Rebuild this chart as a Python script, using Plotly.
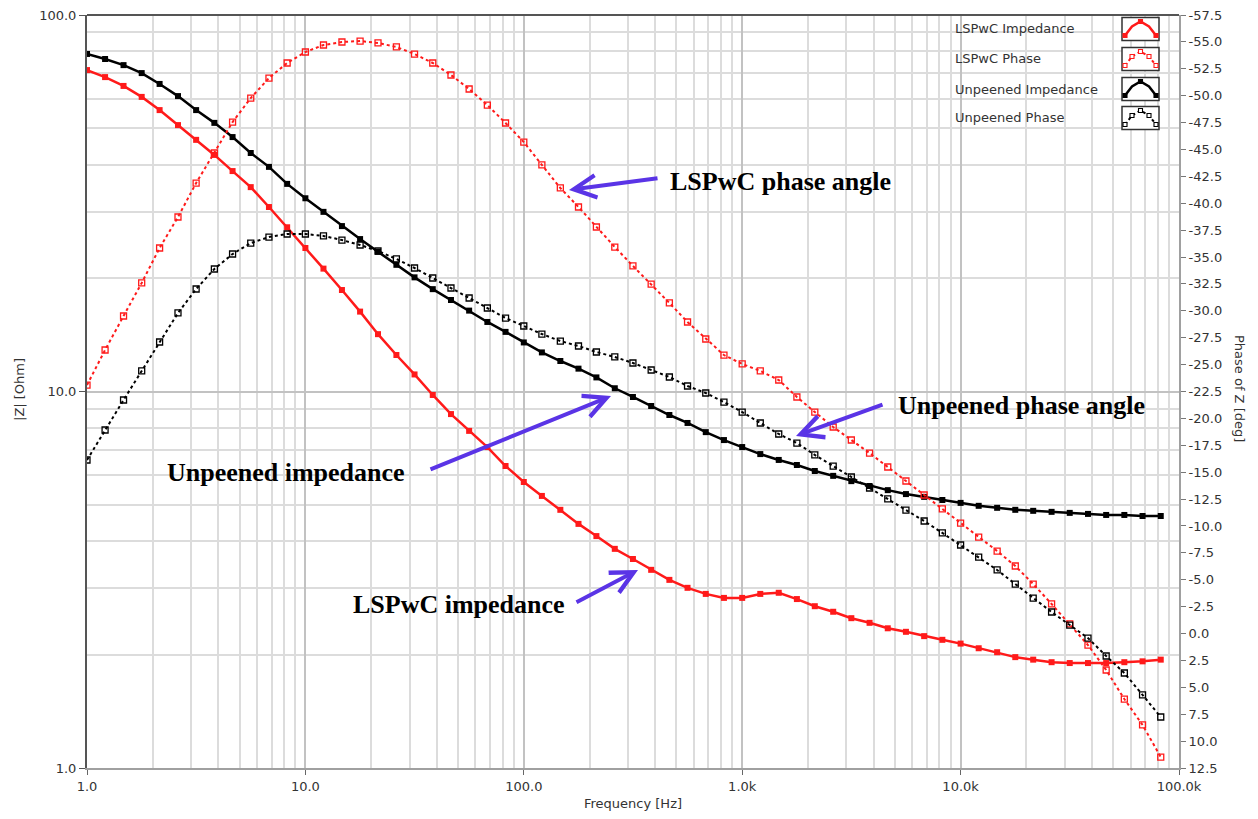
import plotly.graph_objects as go

# ---------------- data ----------------
freq_hz = [1.0, 1.21, 1.47, 1.78, 2.15, 2.61, 3.16, 3.83, 4.64, 5.62, 6.81, 8.25,
           10.0, 12.1, 14.7, 17.8, 21.5, 26.1, 31.6, 38.3, 46.4, 56.2, 68.1, 82.5,
           100, 121, 147, 178, 215, 261, 316, 383, 464, 562, 681, 825,
           1000, 1210, 1470, 1780, 2150, 2610, 3160, 3830, 4640, 5620, 6810, 8250,
           10000, 12100, 14700, 17800, 21500, 26100, 31600, 38300, 46400, 56200, 68100, 82500]

lspwc_impedance_ohm = [71.4, 68.4, 64.8, 60.6, 55.9, 51.0, 46.6, 42.5, 38.5, 34.9, 30.9, 27.3,
                       24.05, 21.2, 18.6, 16.3, 14.2, 12.5, 11.1, 9.79, 8.71, 7.86, 7.12, 6.34,
                       5.75, 5.28, 4.85, 4.45, 4.13, 3.82, 3.59, 3.36, 3.16, 3.01, 2.90, 2.83,
                       2.83, 2.90, 2.92, 2.81, 2.69, 2.60, 2.50, 2.43, 2.35, 2.30, 2.24, 2.19,
                       2.14, 2.08, 2.03, 1.97, 1.94, 1.91, 1.90, 1.90, 1.90, 1.91, 1.92, 1.94]

lspwc_phase_deg = [-23.10, -26.36, -29.52, -32.59, -35.84, -38.72, -41.88, -44.67, -47.55, -49.78, -51.64, -53.04,
                   -54.06, -54.71, -54.99, -55.08, -54.90, -54.53, -53.87, -53.04, -51.92, -50.62, -49.13, -47.46,
                   -45.69, -43.56, -41.42, -39.65, -37.79, -35.93, -34.17, -32.49, -30.73, -28.96, -27.38, -25.89,
                   -25.06, -24.41, -23.57, -21.99, -20.59, -19.20, -17.99, -16.78, -15.48, -14.18, -12.88, -11.58,
                   -10.27, -8.97, -7.67, -6.28, -4.60, -2.75, -0.89, 1.07, 3.39, 6.09, 8.50, 11.48]

unpeened_impedance_ohm = [78.8, 76.4, 73.6, 70.1, 65.6, 60.9, 55.9, 51.7, 47.4, 43.0, 39.5, 35.6,
                          32.6, 30.0, 27.5, 25.4, 23.5, 21.7, 20.1, 18.7, 17.5, 16.4, 15.3, 14.4,
                          13.5, 12.7, 12.05, 11.5, 10.9, 10.2, 9.67, 9.15, 8.66, 8.25, 7.80, 7.43,
                          7.12, 6.82, 6.58, 6.38, 6.15, 5.97, 5.78, 5.61, 5.47, 5.34, 5.25, 5.15,
                          5.06, 4.97, 4.91, 4.85, 4.82, 4.79, 4.76, 4.73, 4.70, 4.70, 4.67, 4.67]

unpeened_phase_deg = [-16.13, -18.92, -21.71, -24.41, -27.10, -29.80, -32.03, -33.89, -35.28, -36.30, -36.86, -37.14,
                      -37.14, -36.96, -36.58, -36.12, -35.56, -34.82, -33.98, -33.05, -32.12, -31.19, -30.26, -29.33,
                      -28.59, -27.84, -27.19, -26.73, -26.17, -25.71, -25.15, -24.50, -23.85, -23.01, -22.36, -21.52,
                      -20.59, -19.57, -18.55, -17.71, -16.60, -15.57, -14.55, -13.53, -12.51, -11.48, -10.46, -9.35,
                      -8.23, -7.11, -5.91, -4.60, -3.30, -2.00, -0.79, 0.42, 2.09, 3.67, 5.71, 7.76]

x_tick_vals = [1, 10, 100, 1000, 10000, 100000]
x_tick_text = ["1.0", "10.0", "100.0", "1.0k", "10.0k", "100.0k"]
x_minor_vals = [1, 10, 100, 1000, 10000]  # decade bases for minor grid
y_tick_vals = [1, 10, 100]
y_tick_text = ["1.0", "10.0", "100.0"]
phase_tick_vals = [-57.5, -55.0, -52.5, -50.0, -47.5, -45.0, -42.5, -40.0, -37.5, -35.0,
                   -32.5, -30.0, -27.5, -25.0, -22.5, -20.0, -17.5, -15.0, -12.5, -10.0,
                   -7.5, -5.0, -2.5, 0.0, 2.5, 5.0, 7.5, 10.0, 12.5]
phase_tick_text = ["-57.5", "-55.0", "-52.5", "-50.0", "-47.5", "-45.0", "-42.5", "-40.0", "-37.5", "-35.0",
                   "-32.5", "-30.0", "-27.5", "-25.0", "-22.5", "-20.0", "-17.5", "-15.0", "-12.5", "-10.0",
                   "-7.5", "-5.0", "-2.5", "0.0", "2.5", "5.0", "7.5", "10.0", "12.5"]

series_names = ["LSPwC Impedance", "LSPwC Phase", "Unpeened Impedance", "Unpeened Phase"]

# ---------------- styling ----------------
W, H = 1258, 819
L, R, T, B = 87, 79, 15, 51
PW, PH = W - L - R, H - T - B
RED = "#ff1a1a"
BLACK = "#000000"
ARROW = "#5a34e6"
TICKFONT = dict(family="DejaVu Sans", size=13, color="#333333")
NOTEFONT = dict(family="Liberation Serif", size=26, color="#000000")


def px(xp):
    return (xp - L) / PW


def py(yp):
    return (H - B - yp) / PH


minor_x = [b * k for b in x_minor_vals for k in range(2, 10)]
minor_y = [b * k for b in [1, 10] for k in range(2, 10)]

fig = go.Figure()

fig.add_trace(go.Scatter(x=freq_hz, y=lspwc_phase_deg, name=series_names[1], yaxis="y2",
                         mode="lines+markers",
                         line=dict(color=RED, width=2, dash="dot"),
                         marker=dict(symbol="square-open", size=6, color=RED, line=dict(width=1.3, color=RED))))
fig.add_trace(go.Scatter(x=freq_hz, y=unpeened_phase_deg, name=series_names[3], yaxis="y2",
                         mode="lines+markers",
                         line=dict(color=BLACK, width=2, dash="dot"),
                         marker=dict(symbol="square-open", size=6, color=BLACK, line=dict(width=1.3, color=BLACK))))
fig.add_trace(go.Scatter(x=freq_hz, y=lspwc_impedance_ohm, name=series_names[0],
                         mode="lines+markers",
                         line=dict(color=RED, width=2.5),
                         marker=dict(symbol="square", size=6, color=RED)))
fig.add_trace(go.Scatter(x=freq_hz, y=unpeened_impedance_ohm, name=series_names[2],
                         mode="lines+markers",
                         line=dict(color=BLACK, width=2.5),
                         marker=dict(symbol="square", size=6, color=BLACK)))

shapes = []
annotations = []

# top frame line
shapes.append(dict(type="line", xref="paper", yref="paper", x0=0, x1=1, y0=1, y1=1,
                   line=dict(color="#555555", width=2), layer="above"))

# custom legend (swatch boxes to the right of the labels)
legend_rows = [29, 59, 89, 118]
legend_styles = [(RED, "solid", "square", 2.5), (RED, "dot", "square-open", 2),
                 (BLACK, "solid", "square", 2.5), (BLACK, "dot", "square-open", 2)]
for name, yc, (col, dash, msym, lw) in zip(series_names, legend_rows, legend_styles):
    annotations.append(dict(xref="paper", yref="paper", x=px(953), y=py(yc), text=name,
                            showarrow=False, xanchor="left", yanchor="middle",
                            font=dict(family="DejaVu Sans", size=13, color="#333333")))
    bx0, bx1 = 1122, 1159
    by0, by1 = yc - 11.5, yc + 11.5
    shapes.append(dict(type="rect", xref="paper", yref="paper", x0=px(bx0), x1=px(bx1),
                       y0=py(by1), y1=py(by0), fillcolor="white",
                       line=dict(color="#333333", width=1.5), layer="above"))
    pts = [(bx0 + 3, by0 + 18), (bx0 + 10, by0 + 9), (bx0 + 18.5, by0 + 4),
           (bx0 + 27, by0 + 9), (bx0 + 34, by0 + 18)]
    path = "M " + " L ".join(f"{px(a):.5f},{py(b):.5f}" for a, b in pts)
    shapes.append(dict(type="path", xref="paper", yref="paper", path=path,
                       line=dict(color=col, width=lw, dash=dash), layer="above"))
    mk = [pts[0], pts[2], pts[4]] if msym == "square" else pts
    for (a, b) in mk:
        s = 2.0
        shapes.append(dict(type="rect", xref="paper", yref="paper",
                           x0=px(a - s), x1=px(a + s), y0=py(b + s), y1=py(b - s),
                           fillcolor=col if msym == "square" else "white",
                           line=dict(color=col, width=1.1), layer="above"))

# arrows + notes
notes = [
    ("LSPwC phase angle", 668, 181, (659, 178), (569, 190)),
    ("Unpeened phase angle", 896, 405, (884, 404), (796, 436)),
    ("Unpeened impedance", 165, 472, (429, 470), (611, 396)),
    ("LSPwC impedance", 351, 604, (575, 603), (638, 570)),
]
for text, tx, ty, tail, tip in notes:
    annotations.append(dict(xref="paper", yref="paper", x=px(tx), y=py(ty), text=f"<b>{text}</b>",
                            showarrow=False, xanchor="left", yanchor="middle", font=NOTEFONT))
    annotations.append(dict(xref="paper", yref="paper", x=px(tip[0]), y=py(tip[1]), text="",
                            showarrow=True, arrowhead=5, arrowsize=1.1, arrowwidth=4,
                            arrowcolor=ARROW, ax=tail[0] - tip[0], ay=tail[1] - tip[1],
                            axref="pixel", ayref="pixel", standoff=0, startstandoff=0))

# axis titles
annotations.append(dict(xref="paper", yref="paper", x=px(19), y=py(390), text="|Z| [Ohm]",
                        textangle=-90, showarrow=False, xanchor="center", yanchor="middle",
                        font=dict(family="DejaVu Sans", size=13, color="#333333")))
annotations.append(dict(xref="paper", yref="paper", x=px(1240), y=py(388), text="Phase of Z [deg]",
                        textangle=90, showarrow=False, xanchor="center", yanchor="middle",
                        font=dict(family="DejaVu Sans", size=13, color="#333333")))
annotations.append(dict(xref="paper", yref="paper", x=px(633), y=py(803), text="Frequency [Hz]",
                        showarrow=False, xanchor="center", yanchor="middle",
                        font=dict(family="DejaVu Sans", size=13, color="#333333")))

fig.update_layout(
    template="none",
    width=W, height=H,
    margin=dict(l=L, r=R, t=T, b=B, pad=0),
    paper_bgcolor="white", plot_bgcolor="white",
    showlegend=False,
    xaxis=dict(type="log", range=[0, 5], tickmode="array", tickvals=x_tick_vals, ticktext=x_tick_text,
               ticks="outside", ticklen=5, tickwidth=1, tickcolor="#666666", tickfont=TICKFONT,
               showline=True, linecolor="#a0a0a0", linewidth=2, mirror=False,
               showgrid=True, gridcolor="#c2c2c2", gridwidth=1.5, zeroline=False, automargin=False,
               minor=dict(tickmode="array", tickvals=minor_x, showgrid=True, gridcolor="#dcdcdc",
                          gridwidth=1.5, ticks="")),
    yaxis=dict(type="log", range=[0, 2], tickmode="array", tickvals=y_tick_vals, ticktext=y_tick_text,
               ticks="outside", ticklen=6, tickwidth=1, tickcolor="#555555", tickfont=TICKFONT,
               showline=True, linecolor="#555555", linewidth=2,
               showgrid=True, gridcolor="#c2c2c2", gridwidth=1.5, zeroline=False, automargin=False,
               minor=dict(tickmode="array", tickvals=minor_y, showgrid=True, gridcolor="#dcdcdc",
                          gridwidth=1.5, ticks="")),
    yaxis2=dict(overlaying="y", side="right", anchor="x", range=[12.5, -57.5],
                tickmode="array", tickvals=phase_tick_vals, ticktext=phase_tick_text,
                ticks="outside", ticklen=5, tickwidth=1, tickcolor="#777777", tickfont=TICKFONT,
                showline=True, linecolor="#a0a0a0", linewidth=2,
                showgrid=False, zeroline=False, automargin=False),
    shapes=shapes,
    annotations=annotations,
)

fig.write_html("out.html")
